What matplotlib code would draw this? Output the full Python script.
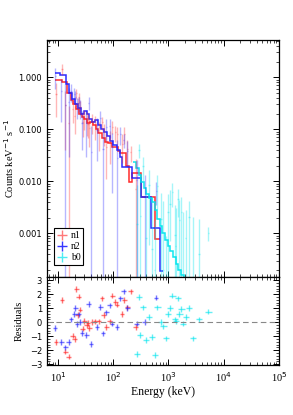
import numpy as np
import matplotlib
matplotlib.use("Agg")
import matplotlib.pyplot as plt
from matplotlib.lines import Line2D
from matplotlib.ticker import LogLocator, FixedLocator, MultipleLocator, NullFormatter, FixedFormatter

# ---------------- data ----------------
# model step functions (counts keV^-1 s^-1)
n1_edges = [9, 12, 14.8, 17, 19, 21, 24, 27, 30, 34, 38, 43, 48, 54, 62, 70, 80, 97, 120, 135,
            173, 190, 220, 315, 385, 565, 700]
n1_model = [0.89, 0.81, 0.5, 0.36, 0.3, 0.25, 0.2, 0.17, 0.16, 0.13, 0.14, 0.12, 0.1, 0.085,
            0.068, 0.058, 0.055, 0.045, 0.038, 0.035, 0.02, 0.0098, 0.0142, 0.0051, 0.0051, 0.00077]

n2_edges = [9, 11, 14, 16, 18, 20, 23, 26, 29, 33, 37, 42, 47, 53, 60, 68, 77, 88, 100, 115,
            130, 145, 215, 320, 480, 700, 800]
n2_model = [1.22, 1.1, 0.75, 0.5, 0.38, 0.3, 0.26, 0.2, 0.22, 0.2, 0.16, 0.14, 0.15, 0.12,
            0.1, 0.09, 0.075, 0.06, 0.05, 0.04, 0.03, 0.019, 0.0114, 0.0051, 0.00127, 0.00019]

b0_edges = [230, 260, 290, 320, 360, 400, 450, 500, 560, 630, 700, 780, 870, 970, 1080, 1200,
            1350, 1500, 1680, 1880, 2100]
b0_model = [0.024, 0.018, 0.013, 0.0095, 0.0075, 0.0058, 0.0048, 0.004, 0.0028, 0.0019, 0.0014,
            0.001, 0.00075, 0.00058, 0.00045, 0.00035, 0.00026, 0.0002, 0.00016, 0.00012]

# data points: energy (keV), rate, 1-sigma error, residual
n1_E = [9.2, 11.8, 13.6, 15.6, 18.4, 20, 21.5, 22.7, 23.7, 25, 28, 30, 33, 35, 37, 42, 47.5,
        55, 63, 67.5, 75, 86, 96, 110, 118, 145, 160, 180, 207, 254]
n1_val = [0.47, 1.45, 0.29, 0.13, 0.25, 0.18, 0.49, 0.3, 0.41, 0.27, 0.14, 0.167, 0.146, 0.127,
          0.106, 0.14, 0.123, 0.0875, 0.136, 0.088, 0.046, 0.057, 0.112, 0.088, 0.082, 0.053,
          0.083, 0.041, 0.036, 0.0072]
n1_err = [0.3, 0.35, 0.25, 0.15, 0.12, 0.1, 0.1, 0.1, 0.09, 0.08, 0.07, 0.07, 0.07, 0.06, 0.06,
          0.06, 0.06, 0.05, 0.04, 0.04, 0.035, 0.035, 0.03, 0.03, 0.03, 0.03, 0.03, 0.02, 0.012,
          0.02]
n1_res = [-1.4, 1.6, -2.1, -2.45, -0.95, -1.2, 2.36, 0.5, 1.82, 0.9, -0.45, 0.1, -0.2, -0.05,
          -0.4, 0.0, 0.05, 0.05, 1.7, 0.5, -0.35, 0.05, 1.9, 1.45, 1.25, 0.6, 1.6, 1.05, 2.2,
          -0.35]

n2_E = [8.9, 11.5, 13.6, 15.6, 17.2, 19.8, 20.6, 22, 23.7, 25.4, 27.3, 32.7, 36, 39.8, 51,
        58.7, 65.5, 75.5, 86.5, 95.6, 118, 135, 155, 181, 265, 371, 600]
n2_val = [1.04, 0.54, 0.29, 0.33, 0.54, 0.47, 0.42, 0.28, 0.315, 0.26, 0.13, 0.13, 0.32, 0.036,
          0.095, 0.166, 0.042, 0.11, 0.114, 0.046, 0.028, 0.081, 0.063, 0.039, 0.0105, 0.0051,
          0.0065]
n2_err = [0.45, 0.4, 0.45, 0.3, 0.2, 0.15, 0.12, 0.12, 0.1, 0.1, 0.09, 0.1, 0.09, 0.08, 0.07,
          0.06, 0.06, 0.05, 0.045, 0.04, 0.035, 0.03, 0.02, 0.02, 0.015, 0.008, 0.003]
n2_res = [-0.4, -1.4, -1.8, -1.4, 0.2, 0.6, 1.0, -0.15, 0.55, 0.0, -0.75, -0.9, 1.3, -1.55,
          -0.35, 1.1, -0.8, 0.7, 1.2, -0.1, -0.35, 1.7, 2.2, 1.0, -0.1, 0.0, 1.75]

b0_E = [273, 292, 310, 350, 390, 440, 497, 563, 630, 740, 810, 900, 980, 1070, 1180, 1300,
        1350, 1495, 1580, 1720, 1860, 2050, 2350, 2820, 3600, 5300]
b0_val = [0.0015, 0.04, 0.0022, 0.02, 0.0008, 0.0086, 0.0005, 0.0002, 0.008, 0.0019, 0.0002,
          0.0001, 0.0026, 0.0037, 0.0062, 0.00095, 0.00057, 0.0046, 0.0018, 0.0026, 0.0001,
          0.0008, 0.0021, 0.0001, 0.0004, 0.001]
b0_err = [0.007, 0.012, 0.012, 0.01, 0.006, 0.008, 0.0045, 0.0016, 0.005, 0.004, 0.004, 0.0008,
          0.003, 0.003, 0.003, 0.0025, 0.0025, 0.0025, 0.0025, 0.0025, 0.0025, 0.002, 0.002,
          0.002, 0.0015, 0.0003]
b0_res = [-2.25, 1.8, -0.9, 1.05, -1.25, 0.35, -1.05, -2.35, 1.05, 0.0, -0.3, -1.15, 0.6, 1.0,
          1.89, 0.2, 0.05, 1.7, 0.6, 0.95, -0.1, 0.35, 1.0, -1.15, 0.2, 0.75]

labels = ["n1", "n2", "b0"]
colors = ["#ff2020", "#2020ff", "#00e5ee"]

x_ticks = [1e1, 1e2, 1e3, 1e4, 1e5]
x_ticklabels = ["10$^{1}$", "10$^{2}$", "10$^{3}$", "10$^{4}$", "10$^{5}$"]
y_ticks = [1.0, 0.1, 0.01, 0.001]
y_ticklabels = ["1.000", "0.100", "0.010", "0.001"]

# ---------------- plot ----------------
serif = "Liberation Serif"
fig = plt.figure(figsize=(2.93, 4.15), dpi=100)
ax = fig.add_axes([0.160, 0.3325, 0.792, 0.5711])
axr = fig.add_axes([0.160, 0.1205, 0.792, 0.2120], sharex=ax)

groups = [
    (n1_E, n1_val, n1_err, n1_res, n1_edges, n1_model, 0.10, 0.32),
    (n2_E, n2_val, n2_err, n2_res, n2_edges, n2_model, 0.10, 0.32),
    (b0_E, b0_val, b0_err, b0_res, b0_edges, b0_model, 0.14, 0.35),
]

for (E, val, err, res, edges, model, fw, al), col, lab in zip(groups, colors, labels):
    E = np.asarray(E, float)
    val = np.asarray(val, float)
    err = np.asarray(err, float)
    lo = np.clip(val - err, 1e-6, None)
    yerr = [val - lo, err]
    xerr = [E - E / (1 + fw), E * fw]
    xerr_top = [E - E / (1 + fw * 0.25), E * fw * 0.25]
    ax.errorbar(E, val, yerr=yerr, xerr=xerr_top, fmt="none", ecolor=col, alpha=al,
                elinewidth=1.0, capsize=0)
    ax.stairs(model, edges, color=col, lw=1.1, alpha=0.95, baseline=None)
    axr.errorbar(E, res, yerr=0.2, xerr=xerr, fmt="none", ecolor=col, alpha=0.6,
                 elinewidth=1.0, capsize=0)

axr.axhline(0, color="#888888", lw=0.8, ls=(0, (5, 3)))

ax.set_xscale("log")
ax.set_yscale("log")
ax.set_xlim(6.3, 1.0e5)
ax.set_ylim(1.45e-4, 5.2)
axr.set_ylim(-3.05, 3.22)

# ticks
for a in (ax, axr):
    a.tick_params(which="both", direction="in", top=True, right=True, colors="black")
    a.tick_params(which="major", length=4, width=0.7)
    a.tick_params(which="minor", length=2, width=0.5)
    for s in a.spines.values():
        s.set_linewidth(0.9)

ax.xaxis.set_major_locator(FixedLocator(x_ticks))
ax.xaxis.set_minor_locator(LogLocator(base=10, subs=np.arange(2, 10), numticks=20))
ax.yaxis.set_major_locator(FixedLocator(y_ticks))
ax.yaxis.set_major_formatter(FixedFormatter(y_ticklabels))
ax.yaxis.set_minor_locator(LogLocator(base=10, subs=np.arange(2, 10), numticks=20))
ax.yaxis.set_minor_formatter(NullFormatter())
plt.setp(ax.get_xticklabels(), visible=False)
for t in ax.get_yticklabels():
    t.set_fontsize(6)

axr.set_xticks(x_ticks)
axr.set_xticklabels(x_ticklabels, fontfamily=serif, fontsize=7.5)
axr.xaxis.set_minor_formatter(NullFormatter())
axr.yaxis.set_major_locator(MultipleLocator(1))
axr.yaxis.set_minor_locator(MultipleLocator(0.2))
for t in axr.get_yticklabels():
    t.set_fontsize(6)

ax.set_ylabel("Counts keV$^{-1}$ s$^{-1}$", fontfamily=serif, fontsize=7.5, labelpad=2)
axr.set_ylabel("Residuals", fontfamily=serif, fontsize=7.5, labelpad=4)
axr.set_xlabel("Energy (keV)", fontfamily=serif, fontsize=8.5, labelpad=2)

handles = [Line2D([], [], color=c, marker="+", linestyle="none", markersize=7, mew=1.0,
                  alpha=a) for c, a in zip(colors, [0.6, 0.9, 0.7])]
leg = ax.legend(handles, labels, loc="lower left", bbox_to_anchor=(0.01, 0.03),
                prop={"family": serif, "size": 7}, fancybox=False, edgecolor="black",
                framealpha=1, borderpad=0.3, handlelength=1.0, handletextpad=0.4,
                labelspacing=0.2)
leg.get_frame().set_linewidth(0.8)

fig.savefig("out.png", dpi=100)
